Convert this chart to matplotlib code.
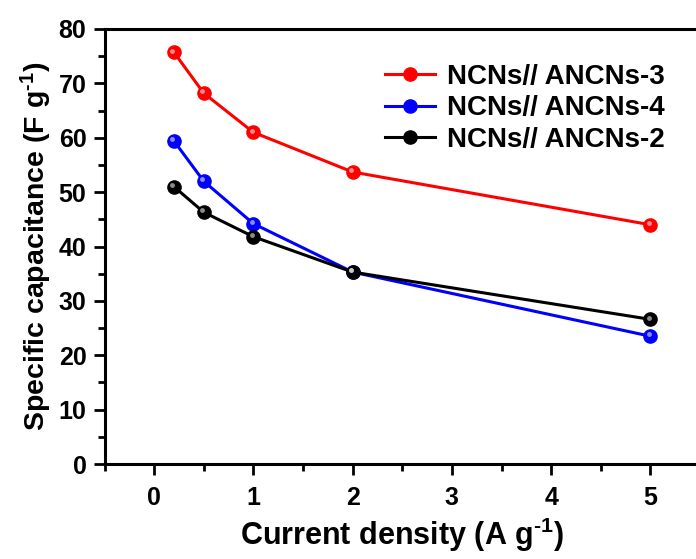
import matplotlib
matplotlib.use("Agg")
import matplotlib.pyplot as plt
from matplotlib.ticker import MultipleLocator
from matplotlib import transforms

plt.rcParams['font.family'] = ['Liberation Sans', 'DejaVu Sans']
plt.rcParams['font.weight'] = 'bold'
plt.rcParams['mathtext.fontset'] = 'custom'
plt.rcParams['mathtext.rm'] = 'Liberation Sans:bold'
plt.rcParams['mathtext.bf'] = 'Liberation Sans:bold'
plt.rcParams['mathtext.default'] = 'bf'

current_density = [0.2, 0.5, 1, 2, 5]
ancns3 = [75.7, 68.2, 61.0, 53.7, 44.0]
ancns4 = [59.4, 52.0, 44.2, 35.3, 23.5]
ancns2 = [51.0, 46.3, 41.8, 35.3, 26.6]
labels = ["NCNs// ANCNs-3", "NCNs// ANCNs-4", "NCNs// ANCNs-2"]
colors = ["#ff0000", "#0000ff", "#000000"]
series = [ancns3, ancns4, ancns2]

fig = plt.figure(figsize=(6.96, 5.59), dpi=100)
ax = fig.add_axes([104.5/696, 1-464/559, (700-104.5)/696, (464-29)/559])

for y, c, lab in zip(series, colors, labels):
    ax.plot(current_density, y, '-o', color=c, lw=2.2, ms=9.5, mec=c, mfc=c, label=lab, zorder=3)
    off = transforms.offset_copy(ax.transData, fig=fig, x=-1.3, y=1.3, units='points')
    ax.plot(current_density, y, 'o', color='white', ms=3.5, mec='none', alpha=0.55, transform=off, zorder=4)

ax.set_xlim(-0.5, 5.5)
ax.set_ylim(0, 80)
ax.xaxis.set_major_locator(MultipleLocator(1))
ax.xaxis.set_minor_locator(MultipleLocator(0.5))
ax.yaxis.set_major_locator(MultipleLocator(10))
ax.yaxis.set_minor_locator(MultipleLocator(5))
ax.tick_params(axis='both', which='major', direction='out', length=8, width=2, labelsize=18, pad=5)
ax.tick_params(axis='x', which='major', pad=8)
ax.tick_params(axis='both', which='minor', direction='out', length=5, width=2)
for sp in ax.spines.values():
    sp.set_linewidth(2.2)

ax.set_xlabel(r"Current density (A g$^{\text{-1}}$)", fontsize=22, fontweight='bold', labelpad=4)
ax.set_ylabel(r"Specific capacitance (F g$^{\text{-1}}$)", fontsize=20.5, fontweight='bold', labelpad=3)

leg = ax.legend(loc='upper right', bbox_to_anchor=(0.968, 0.958), frameon=False, fontsize=20,
                handlelength=1.8, handletextpad=0.4, labelspacing=0.2, borderaxespad=0.2)
fig.savefig("out.png", dpi=100)
